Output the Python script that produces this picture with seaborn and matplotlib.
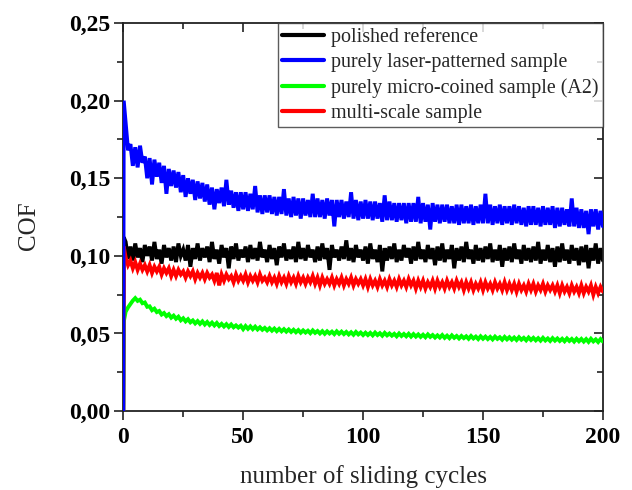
import numpy as np
import pandas as pd
import matplotlib
matplotlib.use("Agg")
import matplotlib.pyplot as plt
from matplotlib.ticker import MultipleLocator, FuncFormatter
from matplotlib.lines import Line2D
import seaborn as sns

# Sliding cycles: start point, first partial cycle, then one sample per cycle
cycles = [0, 0.2] + list(range(1, 201))

labels = [
    "polished reference",
    "purely laser-patterned sample",
    "purely micro-coined sample (A2)",
    "multi-scale sample",
]
colors = ["#000000", "#0000ff", "#00ff00", "#ff0000"]

cof_polished = [
    0.0, 0.112,
    0.109, 0.098, 0.106, 0.097, 0.108, 0.099, 0.105, 0.096, 0.107, 0.100,
    0.106, 0.097, 0.109, 0.098, 0.104, 0.095, 0.107, 0.099, 0.105, 0.097,
    0.106, 0.096, 0.108, 0.100, 0.104, 0.097, 0.107, 0.093, 0.105, 0.098,
    0.108, 0.097, 0.105, 0.099, 0.106, 0.096, 0.109, 0.098, 0.104, 0.095,
    0.107, 0.099, 0.105, 0.092, 0.106, 0.098, 0.108, 0.097, 0.104, 0.099,
    0.106, 0.096, 0.107, 0.098, 0.105, 0.097, 0.109, 0.099, 0.104, 0.096,
    0.107, 0.098, 0.105, 0.094, 0.106, 0.099, 0.108, 0.097, 0.104, 0.098,
    0.106, 0.096, 0.109, 0.098, 0.105, 0.097, 0.107, 0.099, 0.104, 0.096,
    0.106, 0.097, 0.108, 0.098, 0.105, 0.091, 0.107, 0.099, 0.104, 0.097,
    0.106, 0.098, 0.110, 0.097, 0.105, 0.096, 0.107, 0.099, 0.104, 0.097,
    0.106, 0.095, 0.108, 0.098, 0.104, 0.096, 0.107, 0.090, 0.105, 0.097,
    0.106, 0.098, 0.108, 0.096, 0.104, 0.097, 0.107, 0.099, 0.105, 0.095,
    0.106, 0.097, 0.109, 0.098, 0.104, 0.096, 0.107, 0.098, 0.105, 0.094,
    0.106, 0.097, 0.108, 0.096, 0.104, 0.098, 0.107, 0.092, 0.105, 0.097,
    0.106, 0.096, 0.109, 0.098, 0.104, 0.095, 0.107, 0.097, 0.105, 0.096,
    0.106, 0.098, 0.108, 0.096, 0.104, 0.097, 0.107, 0.093, 0.105, 0.097,
    0.106, 0.096, 0.108, 0.098, 0.104, 0.095, 0.107, 0.097, 0.105, 0.096,
    0.106, 0.097, 0.109, 0.095, 0.104, 0.097, 0.107, 0.096, 0.105, 0.093,
    0.106, 0.096, 0.108, 0.097, 0.104, 0.095, 0.107, 0.097, 0.105, 0.094,
    0.106, 0.096, 0.107, 0.092, 0.105, 0.097, 0.108, 0.095, 0.105, 0.097,
]

cof_laser = [
    0.0, 0.200,
    0.186, 0.168, 0.172, 0.158, 0.170, 0.157, 0.171, 0.160, 0.164, 0.150,
    0.163, 0.146, 0.162, 0.151, 0.160, 0.147, 0.158, 0.140, 0.156, 0.145,
    0.155, 0.144, 0.154, 0.141, 0.152, 0.138, 0.150, 0.140, 0.149, 0.136,
    0.148, 0.137, 0.147, 0.135, 0.146, 0.133, 0.144, 0.130, 0.143, 0.134,
    0.144, 0.132, 0.149, 0.133, 0.142, 0.131, 0.141, 0.129, 0.141, 0.130,
    0.141, 0.129, 0.140, 0.130, 0.145, 0.128, 0.139, 0.127, 0.139, 0.128,
    0.139, 0.127, 0.138, 0.126, 0.138, 0.127, 0.143, 0.126, 0.137, 0.125,
    0.138, 0.126, 0.137, 0.124, 0.137, 0.126, 0.136, 0.125, 0.140, 0.125,
    0.137, 0.125, 0.136, 0.124, 0.137, 0.126, 0.136, 0.119, 0.136, 0.125,
    0.136, 0.124, 0.135, 0.125, 0.141, 0.124, 0.136, 0.123, 0.135, 0.124,
    0.136, 0.124, 0.135, 0.123, 0.135, 0.124, 0.134, 0.122, 0.139, 0.123,
    0.135, 0.123, 0.134, 0.122, 0.134, 0.123, 0.134, 0.121, 0.134, 0.122,
    0.134, 0.122, 0.138, 0.121, 0.134, 0.122, 0.133, 0.117, 0.134, 0.122,
    0.133, 0.121, 0.133, 0.122, 0.133, 0.121, 0.132, 0.121, 0.133, 0.120,
    0.133, 0.121, 0.132, 0.121, 0.133, 0.120, 0.132, 0.121, 0.133, 0.121,
    0.140, 0.121, 0.133, 0.120, 0.132, 0.121, 0.133, 0.120, 0.132, 0.121,
    0.132, 0.120, 0.133, 0.121, 0.132, 0.120, 0.131, 0.119, 0.132, 0.120,
    0.132, 0.120, 0.131, 0.119, 0.132, 0.120, 0.131, 0.120, 0.132, 0.118,
    0.131, 0.119, 0.131, 0.120, 0.130, 0.119, 0.137, 0.119, 0.131, 0.118,
    0.130, 0.118, 0.129, 0.114, 0.130, 0.119, 0.130, 0.117, 0.129, 0.119,
]

cof_coined = [
    0.0, 0.0575,
    0.0640, 0.0668, 0.0690, 0.0712, 0.0728, 0.0710, 0.0718, 0.0695, 0.0700, 0.0672,
    0.0675, 0.0650, 0.0660, 0.0638, 0.0645, 0.0622, 0.0632, 0.0612, 0.0624, 0.0602,
    0.0615, 0.0595, 0.0608, 0.0585, 0.0598, 0.0578, 0.0592, 0.0572, 0.0584, 0.0565,
    0.0580, 0.0562, 0.0578, 0.0558, 0.0574, 0.0555, 0.0570, 0.0552, 0.0568, 0.0548,
    0.0562, 0.0545, 0.0560, 0.0542, 0.0558, 0.0540, 0.0552, 0.0538, 0.0550, 0.0528,
    0.0548, 0.0530, 0.0546, 0.0528, 0.0544, 0.0526, 0.0540, 0.0524, 0.0536, 0.0520,
    0.0534, 0.0518, 0.0532, 0.0515, 0.0530, 0.0514, 0.0528, 0.0512, 0.0526, 0.0510,
    0.0524, 0.0508, 0.0522, 0.0505, 0.0520, 0.0506, 0.0518, 0.0502, 0.0520, 0.0504,
    0.0516, 0.0500, 0.0515, 0.0498, 0.0514, 0.0500, 0.0512, 0.0496, 0.0514, 0.0498,
    0.0512, 0.0496, 0.0510, 0.0494, 0.0508, 0.0492, 0.0510, 0.0494, 0.0506, 0.0490,
    0.0505, 0.0490, 0.0504, 0.0488, 0.0506, 0.0490, 0.0502, 0.0486, 0.0504, 0.0488,
    0.0500, 0.0486, 0.0498, 0.0482, 0.0500, 0.0484, 0.0497, 0.0482, 0.0498, 0.0480,
    0.0496, 0.0480, 0.0494, 0.0478, 0.0492, 0.0476, 0.0494, 0.0478, 0.0490, 0.0474,
    0.0488, 0.0474, 0.0490, 0.0472, 0.0486, 0.0470, 0.0488, 0.0472, 0.0484, 0.0468,
    0.0484, 0.0470, 0.0482, 0.0466, 0.0484, 0.0468, 0.0480, 0.0464, 0.0482, 0.0466,
    0.0480, 0.0464, 0.0478, 0.0462, 0.0480, 0.0465, 0.0476, 0.0460, 0.0478, 0.0462,
    0.0476, 0.0460, 0.0474, 0.0458, 0.0476, 0.0460, 0.0472, 0.0456, 0.0474, 0.0458,
    0.0472, 0.0456, 0.0470, 0.0454, 0.0472, 0.0455, 0.0468, 0.0452, 0.0470, 0.0454,
    0.0468, 0.0452, 0.0466, 0.0450, 0.0468, 0.0452, 0.0465, 0.0448, 0.0466, 0.0450,
    0.0465, 0.0448, 0.0464, 0.0446, 0.0466, 0.0449, 0.0462, 0.0445, 0.0464, 0.0448,
]

cof_multiscale = [
    0.0, 0.106,
    0.099, 0.094, 0.097, 0.092, 0.096, 0.091, 0.095, 0.091, 0.094, 0.090,
    0.094, 0.089, 0.093, 0.090, 0.093, 0.088, 0.092, 0.089, 0.092, 0.087,
    0.091, 0.087, 0.091, 0.088, 0.090, 0.086, 0.090, 0.087, 0.090, 0.085,
    0.089, 0.086, 0.089, 0.085, 0.089, 0.086, 0.088, 0.084, 0.089, 0.081,
    0.088, 0.084, 0.088, 0.085, 0.087, 0.083, 0.088, 0.084, 0.087, 0.084,
    0.088, 0.083, 0.087, 0.084, 0.087, 0.083, 0.088, 0.084, 0.086, 0.083,
    0.087, 0.083, 0.086, 0.082, 0.087, 0.083, 0.086, 0.082, 0.087, 0.083,
    0.086, 0.082, 0.087, 0.083, 0.086, 0.082, 0.086, 0.083, 0.087, 0.082,
    0.086, 0.081, 0.086, 0.082, 0.085, 0.082, 0.086, 0.081, 0.085, 0.082,
    0.086, 0.081, 0.085, 0.082, 0.086, 0.081, 0.085, 0.082, 0.085, 0.081,
    0.085, 0.080, 0.085, 0.081, 0.084, 0.080, 0.085, 0.081, 0.084, 0.080,
    0.085, 0.081, 0.084, 0.080, 0.085, 0.081, 0.084, 0.080, 0.085, 0.081,
    0.084, 0.079, 0.084, 0.080, 0.084, 0.079, 0.083, 0.080, 0.084, 0.079,
    0.084, 0.080, 0.083, 0.079, 0.084, 0.080, 0.083, 0.079, 0.084, 0.080,
    0.083, 0.078, 0.083, 0.079, 0.083, 0.078, 0.082, 0.079, 0.083, 0.078,
    0.083, 0.079, 0.082, 0.078, 0.083, 0.079, 0.082, 0.078, 0.083, 0.078,
    0.082, 0.078, 0.082, 0.077, 0.082, 0.078, 0.081, 0.077, 0.082, 0.078,
    0.082, 0.077, 0.081, 0.078, 0.082, 0.077, 0.081, 0.078, 0.081, 0.077,
    0.081, 0.076, 0.081, 0.077, 0.080, 0.076, 0.081, 0.077, 0.080, 0.076,
    0.081, 0.076, 0.080, 0.077, 0.081, 0.075, 0.080, 0.076, 0.080, 0.077,
]

series = [cof_polished, cof_laser, cof_coined, cof_multiscale]
df = pd.concat(
    [pd.DataFrame({"cycle": cycles, "cof": vals, "sample": lab})
     for lab, vals in zip(labels, series)],
    ignore_index=True,
)

sns.set_style("ticks")
serif = ["Liberation Serif", "DejaVu Serif"]
plt.rcParams["font.family"] = serif

fig = plt.figure(figsize=(6.32, 4.9), dpi=100)
ax = fig.add_axes([0.195, 0.161, 0.759, 0.792])

sns.lineplot(
    data=df, x="cycle", y="cof", hue="sample", hue_order=labels,
    palette=colors, estimator=None, sort=False, linewidth=2.8,
    legend=False, ax=ax,
)
# laser-patterned trace sits on top of the others
for line, z in zip(ax.lines, [2, 5, 3, 4]):
    line.set_zorder(z)
    line.set_solid_joinstyle("miter")

ax.set_xlim(0, 200)
ax.set_ylim(0, 0.25)
ax.xaxis.set_major_locator(MultipleLocator(50))
ax.xaxis.set_minor_locator(MultipleLocator(25))
ax.yaxis.set_major_locator(MultipleLocator(0.05))
ax.yaxis.set_minor_locator(MultipleLocator(0.025))
ax.yaxis.set_major_formatter(FuncFormatter(lambda v, p: f"{v:.2f}".replace(".", ",")))
ax.xaxis.set_major_formatter(FuncFormatter(lambda v, p: f"{v:.0f}"))

for s in ax.spines.values():
    s.set_linewidth(1.3)
    s.set_color("#222222")

ax.tick_params(which="major", direction="out", length=6.5, width=1.2,
               labelsize=17, pad=3, colors="#222222", labelcolor="black")
ax.tick_params(axis="x", which="major", pad=5)
ax.tick_params(which="minor", direction="out", length=4, width=1.2, colors="#222222")
for lbl in ax.get_xticklabels() + ax.get_yticklabels():
    lbl.set_fontweight("bold")

# inward mirror ticks on the top and right frame
top = ax.secondary_xaxis("top")
top.xaxis.set_major_locator(MultipleLocator(50))
top.xaxis.set_minor_locator(MultipleLocator(25))
top.tick_params(which="both", direction="in", labeltop=False, width=1.2, colors="#222222")
top.tick_params(which="major", length=6.5)
top.tick_params(which="minor", length=4)
top.spines["top"].set_visible(False)
right = ax.secondary_yaxis("right")
right.yaxis.set_major_locator(MultipleLocator(0.05))
right.yaxis.set_minor_locator(MultipleLocator(0.025))
right.tick_params(which="both", direction="in", labelright=False, width=1.2, colors="#222222")
right.tick_params(which="major", length=6.5)
right.tick_params(which="minor", length=4)
right.spines["right"].set_visible(False)

ax.set_xlabel("number of sliding cycles", fontsize=18, labelpad=12)
ax.set_ylabel("COF", fontsize=18)
ax.yaxis.set_label_coords(-0.196, 0.479)
ax.yaxis.label.set_va("center")

handles = [Line2D([0], [0], color=c, lw=3) for c in colors]
leg = ax.legend(
    handles, labels, loc="upper right", fontsize=14.4, frameon=True,
    fancybox=False, borderaxespad=0, handlelength=2.1, handletextpad=0.35,
    labelspacing=0.3, borderpad=0.2,
)
leg.get_frame().set_edgecolor("#333333")
leg.get_frame().set_linewidth(1.0)
leg.set_zorder(10)

fig.savefig("out.png", dpi=100)
